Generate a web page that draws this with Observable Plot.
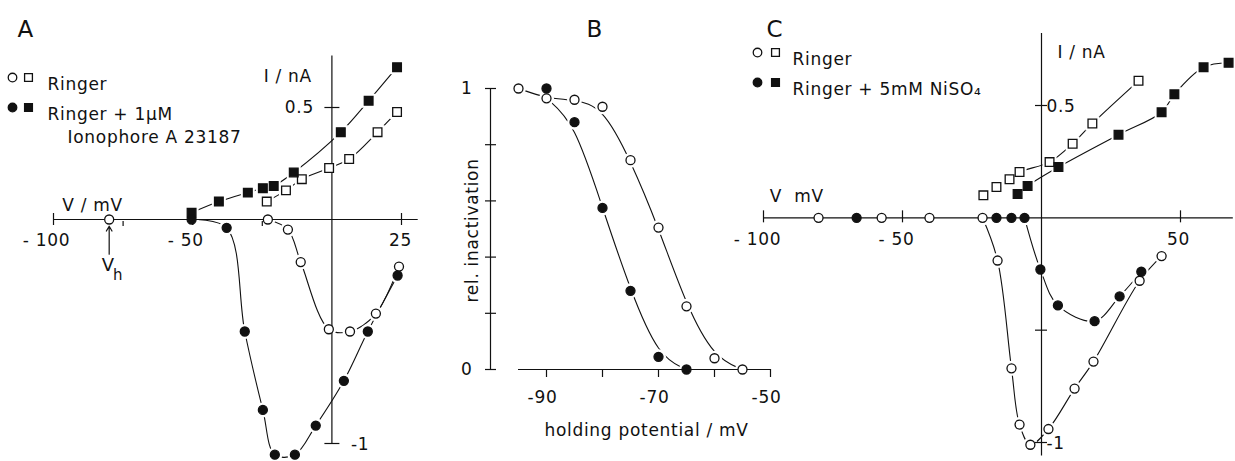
<!DOCTYPE html>
<html><head><meta charset="utf-8">
<script src="https://cdn.jsdelivr.net/npm/d3@7"></script>
<script src="https://cdn.jsdelivr.net/npm/@observablehq/plot@0.6"></script>
<style>
body{margin:0;background:#fff;}
#fig{position:relative;width:1235px;height:461px;overflow:hidden;background:#fff;}
#fig svg{position:absolute;top:0;overflow:visible;background:none;}
</style></head><body><div id="fig"></div>
<script>
// ---------- Panel A : I/V, Ringer vs Ringer + 1 µM ionophore A23187 ----------
const aRingerOutV = [-23.4, -16.5, -10.8, -1, 6.2, 16.4, 23.4];
const aRingerOutI = [0.08, 0.13, 0.18, 0.23, 0.27, 0.39, 0.48];
const aIonoOutV   = [-50.4, -40.6, -30.2, -24.8, -20.9, -13.7, 3.2, 13.2, 23.4];
const aIonoOutI   = [0.03, 0.08, 0.12, 0.14, 0.15, 0.21, 0.39, 0.53, 0.68];
const aRingerInV  = [-80, -23, -15.8, -11.2, -1.1, 6.5, 15.8, 24.1];
const aRingerInI  = [0, 0, -0.045, -0.19, -0.49, -0.50, -0.42, -0.21];
const aIonoInV    = [-50.4, -37.8, -31.3, -24.8, -20.5, -13.3, -5.8, 4.3, 12.9, 23.6];
const aIonoInI    = [0, -0.037, -0.50, -0.85, -1.05, -1.05, -0.92, -0.72, -0.50, -0.25];
const aXTicks = [-100, -50, 25];
const aXTickLabels = ["- 100", "- 50", "25"];
const aXMinor = [-75, -25];
const aYTicks = [0.5, -1];
const aYTickLabels = ["0.5", "-1"];
const aHolding = [-80];

// ---------- Panel B : steady-state inactivation ----------
const bOpenV   = [-95, -90, -85, -80, -75, -70, -65, -60, -55];
const bOpenY   = [1.0, 0.965, 0.96, 0.935, 0.745, 0.505, 0.225, 0.04, 0.0];
const bFilledV = [-90, -85, -80, -75, -70, -65];
const bFilledY = [1.0, 0.88, 0.575, 0.28, 0.045, 0.0];
const bXTicks = [-90, -80, -70, -60, -50];
const bXTickLabels = ["-90", "", "-70", "", "-50"];
const bYTicks = [0, 0.2, 0.4, 0.6, 0.8, 1];
const bYTickLabels = ["0", "", "", "", "", "1"];

// ---------- Panel C : I/V, Ringer vs Ringer + 5 mM NiSO4 ----------
const cRingerOutV = [-20.9, -16.2, -11.5, -7.9, 2.9, 11.2, 18.3, 34.9];
const cRingerOutI = [0.10, 0.137, 0.172, 0.204, 0.248, 0.33, 0.42, 0.61];
const cNiOutV     = [-8.6, -5, 6.1, 27.7, 43.2, 47.8, 58.3, 67.3];
const cNiOutI     = [0.106, 0.142, 0.226, 0.37, 0.47, 0.55, 0.67, 0.69];
const cRingerInV  = [-80.2, -57.5, -40.3, -21.2, -15.8, -10.8, -7.9, -4, 2.5, 11.9, 18.7, 35.3, 43.2];
const cRingerInI  = [0, 0, 0, 0, -0.19, -0.67, -0.92, -1.01, -0.94, -0.76, -0.64, -0.28, -0.17];
const cNiInV      = [-66.5, -16.2, -10.8, -6.1, -0.4, 5.9, 19.1, 28.1, 35.9];
const cNiInI      = [0, 0, 0, 0, -0.23, -0.39, -0.46, -0.35, -0.24];
const cXTicks = [-100, -50, 50];
const cXTickLabels = ["- 100", "- 50", "50"];
const cYTicks = [0.5, -0.5, -1];
const cYTickLabels = ["0.5", "", "-1"];

// ---------- helpers ----------
const FONT = "DejaVu Sans";
const INK = "#111";
const FS = 17;
const pts = (V, I) => V.map((v, k) => ({v, i: I[k]}));
const R_C = 4.5, R_S = 4.9;
const halo = (d, sq) => Plot.dot(d, {x: "v", y: "i", r: (sq ? R_S : R_C) + 3, symbol: sq ? "square" : "circle", fill: "white", stroke: "none"});
const mk = (d, sq, filled) => Plot.dot(d, {x: "v", y: "i", r: sq ? R_S : R_C, symbol: sq ? "square" : "circle", fill: filled ? INK : "white", stroke: INK, strokeWidth: 1.3});
const ln = (d, curve = "catmull-rom") => Plot.line(d, {x: "v", y: "i", curve, stroke: INK, strokeWidth: 1.1});
const vTicks = (vals, up, down) => Plot.ruleX(vals, {x: d => d, y1: () => 0, y2: () => 0, insetTop: -up, insetBottom: -down, stroke: INK, strokeWidth: 1.2});
const hTicks = (vals, xAt, left, right) => Plot.ruleY(vals, {y: d => d, x1: () => xAt, x2: () => xAt, insetLeft: -left, insetRight: -right, stroke: INK, strokeWidth: 1.2});
const label = (t, dx, dy, opts = {}) => Plot.text([t], {text: d => d, frameAnchor: "top-left", textAnchor: "start", dx, dy, fill: INK, fontSize: FS, ...opts});
const legendDot = (dx, dy, sq, filled) => Plot.dot([0], {frameAnchor: "top-left", dx, dy, r: sq ? R_S * 0.9 : R_C * 0.95, symbol: sq ? "square" : "circle", fill: filled ? INK : "white", stroke: INK, strokeWidth: 1.3});

function place(svg, left) { svg.style.left = left + "px"; document.getElementById("fig").appendChild(svg); }
const common = {style: {background: "none", overflow: "visible", fontFamily: FONT, fontSize: FS + "px", letterSpacing: "0.7px", color: INK}};

// ---------- Panel A ----------
{
  const rOut = pts(aRingerOutV, aRingerOutI), iOut = pts(aIonoOutV, aIonoOutI);
  const rIn = pts(aRingerInV, aRingerInI), iIn = pts(aIonoInV, aIonoInI);
  const svg = Plot.plot({
    ...common, width: 420, height: 461, marginLeft: 53, marginRight: 19, marginTop: 107, marginBottom: 18,
    x: {domain: [-100, 25], axis: null}, y: {domain: [-1, 0.5], axis: null},
    marks: [
      ln(rOut), ln(iOut), ln(rIn.slice(1)), ln(iIn),
      halo(rOut, true), halo(iOut, true), halo(rIn, false), halo(iIn, false),
      Plot.ruleY([0], {x1: () => -100, x2: () => 31, stroke: INK, strokeWidth: 1.2}),
      Plot.ruleX([0], {y1: () => -1, y2: () => 0.73, stroke: INK, strokeWidth: 1.2}),
      vTicks(aXTicks, 6, 6), vTicks(aXMinor, -2, 7), hTicks(aYTicks, 0, 7, 8),
      Plot.text(aXTicks, {x: d => d, y: () => 0, text: (d, k) => aXTickLabels[k], filter: d => d < 0, dy: 21, dx: -7, fontSize: FS, fill: INK}),
      Plot.text(aXTicks, {x: d => d, y: () => 0, text: (d, k) => aXTickLabels[k], filter: d => d > 0, dy: 21, dx: -1, fontSize: FS, fill: INK}),
      Plot.text(aYTicks, {x: () => 0, y: d => d, text: (d, k) => aYTickLabels[k], filter: d => d > 0, textAnchor: "end", dx: -18, fontSize: FS, fill: INK}),
      Plot.text(aYTicks, {x: () => 0, y: d => d, text: (d, k) => aYTickLabels[k], filter: d => d < 0, textAnchor: "start", dx: 19, dy: 1, fontSize: FS, fill: INK}),
      Plot.text(["I / nA"], {x: () => 0, y: () => 0.638, text: d => d, textAnchor: "end", dx: -20, fontSize: FS, fill: INK}),
      Plot.text(["V / mV"], {x: () => -86, y: () => 0, text: d => d, dy: -14, fontSize: FS, fill: INK}),
      Plot.arrow(aHolding, {x1: d => d, x2: d => d, y1: () => -0.155, y2: () => -0.03, headLength: 7, strokeWidth: 1.2, stroke: INK}),
      Plot.text(aHolding, {x: d => d, y: () => -0.205, text: () => "V", dx: -1, fontSize: 18, fill: INK}),
      Plot.text(aHolding, {x: d => d, y: () => -0.205, text: () => "h", dx: 9, dy: 10, fontSize: 15, fill: INK}),
      mk(rOut, true, false), mk(iOut, true, true), mk(rIn, false, false), mk(iIn, false, true),
      label("A", -36, -87, {fontSize: 23}),
      legendDot(-41, -30, false, false), legendDot(-25, -30, true, false), label("Ringer", -6, -30),
      legendDot(-41, 0, false, true), legendDot(-25, 0, true, true), label("Ringer + 1µM", -6, 0),
      label("Ionophore A 23187", 14, 23)
    ]
  });
  place(svg, 0);
}

// ---------- Panel B ----------
{
  const open = pts(bOpenV, bOpenY), filled = pts(bFilledV, bFilledY);
  const svg = Plot.plot({
    ...common, width: 360, height: 461, marginLeft: 126, marginRight: 10, marginTop: 88, marginBottom: 92,
    x: {domain: [-90, -50], axis: null}, y: {domain: [0, 1], axis: null},
    marks: [
      ln(open, "basis"), ln(filled.map((d, k) => k === 0 ? {v: d.v, i: bOpenY[1]} : d), "basis"),
      halo(open, false), halo(filled, false),
      Plot.ruleY([0], {x1: () => -95, x2: () => -50, stroke: INK, strokeWidth: 1.2}),
      Plot.ruleX([-100], {y1: () => 0, y2: () => 1, stroke: INK, strokeWidth: 1.2}),
      Plot.ruleX(bXTicks, {x: d => d, y1: () => 0, y2: () => 0, insetTop: 0, insetBottom: -8, stroke: INK, strokeWidth: 1.2}),
      hTicks(bYTicks, -100, 5, 6),
      Plot.text(bXTicks, {x: d => d, y: () => 0, text: (d, k) => bXTickLabels[k], dy: 28, dx: -4, fontSize: FS, fill: INK}),
      Plot.text(bYTicks, {x: () => -100, y: d => d, text: (d, k) => bYTickLabels[k], textAnchor: "end", dx: -18, fontSize: FS, fill: INK}),
      Plot.text(["rel. inactivation"], {x: () => -100, y: () => 0.495, text: d => d, rotate: -90, dx: -18, fontSize: FS, fill: INK}),
      Plot.text(["holding potential / mV"], {frameAnchor: "bottom", text: d => d, dx: -12, dy: 66, fontSize: FS, fill: INK}),
      mk(open, false, false), mk(filled, false, true),
      label("B", 40, -68, {fontSize: 23})
    ]
  });
  place(svg, 420);
}

// ---------- Panel C ----------
{
  const rOut = pts(cRingerOutV, cRingerOutI), nOut = pts(cNiOutV, cNiOutI);
  const rIn = pts(cRingerInV, cRingerInI), nIn = pts(cNiInV, cNiInI);
  const svg = Plot.plot({
    ...common, width: 515, height: 461, marginLeft: 43, marginRight: 55, marginTop: 105, marginBottom: 19,
    x: {domain: [-100, 50], axis: null}, y: {domain: [-1, 0.5], axis: null},
    marks: [
      ln(rOut), ln(nOut), ln(rIn.slice(3)), ln(nIn.slice(3)),
      halo(rOut, true), halo(nOut, true), halo(rIn, false), halo(nIn, false),
      Plot.ruleY([0], {x1: () => -100, x2: () => 69, stroke: INK, strokeWidth: 1.2}),
      Plot.ruleX([0], {y1: () => -1.06, y2: () => 0.82, stroke: INK, strokeWidth: 1.2}),
      vTicks(cXTicks, 7, 5), hTicks(cYTicks, 0, 6, 6),
      Plot.text(cXTicks, {x: d => d, y: () => 0, text: (d, k) => cXTickLabels[k], filter: d => d < 0, dy: 22, dx: -6, fontSize: FS, fill: INK}),
      Plot.text(cXTicks, {x: d => d, y: () => 0, text: (d, k) => cXTickLabels[k], filter: d => d > 0, dy: 22, dx: -2, fontSize: FS, fill: INK}),
      Plot.text(cYTicks, {x: () => 0, y: d => d, text: (d, k) => cYTickLabels[k], textAnchor: "start", dx: 5, dy: 1, fontSize: FS, fill: INK}),
      Plot.text(["I / nA"], {x: () => 0, y: () => 0.734, text: d => d, textAnchor: "start", dx: 16, fontSize: FS, fill: INK}),
      Plot.text(["V  mV"], {x: () => -88, y: () => 0, text: d => d, dy: -21, fontSize: FS, fill: INK}),
      mk(rOut, true, false), mk(nOut, true, true), mk(rIn, false, false), mk(nIn, false, true),
      label("C", 3, -85, {fontSize: 23}),
      legendDot(-6, -53, false, false), legendDot(12, -53, true, false), label("Ringer", 29, -53),
      legendDot(-6, -23, false, true), legendDot(12, -23, true, true), label("Ringer + 5mM NiSO₄", 29, -23)
    ]
  });
  place(svg, 720);
}
</script></body></html>
